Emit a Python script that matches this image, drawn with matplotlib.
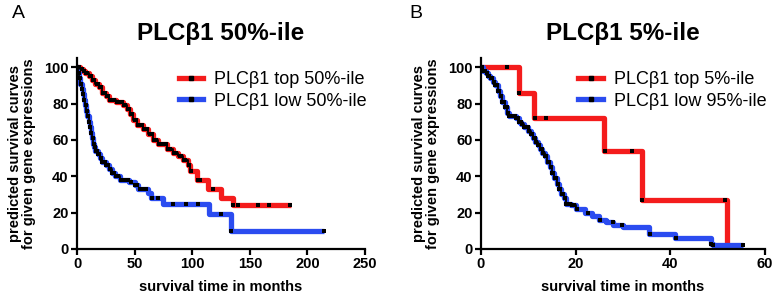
import numpy as np
import matplotlib
matplotlib.use('Agg')
import matplotlib.pyplot as plt
from matplotlib.lines import Line2D

plt.rcParams['font.family'] = ['Liberation Sans', 'DejaVu Sans']

RED = '#f41c1c'
BLUE = '#2b4cf0'

# panel A: top 50% vs low 50%
a_top_t = [0, 3, 5, 7, 10, 13, 16, 19, 22, 25, 28, 34, 40, 43, 46, 49, 52, 57, 62, 66,
           70, 78, 83, 88, 92, 96, 98, 104, 114, 125, 135]
a_top_s = [100, 99, 98, 97, 95, 93, 91, 89, 86, 84, 82, 81, 79, 77, 74, 71, 68, 66, 63, 60,
           58, 55, 53, 51, 49, 46, 43, 38, 33, 28, 24]
a_top_end = 186
a_top_cens = [1, 2, 4, 6, 8, 9, 11, 12, 14, 15, 17, 18, 20, 21, 23, 24, 26, 27, 29, 30, 31, 32,
              35, 36, 37, 38, 39, 41, 42, 44, 45, 47, 48, 50, 51, 53, 54, 55, 56, 58, 59, 60,
              61, 63, 64, 65, 67, 68, 69, 71, 72, 74, 75, 76, 77, 79, 80, 81, 84, 85, 86, 89,
              90, 93, 94, 97, 99, 105, 107, 118, 135, 140, 157, 167, 185]

a_low_t = [0, 1, 2, 3, 4, 5, 6, 7, 8, 9, 10, 11, 12, 13, 14, 15, 16, 18, 20, 22, 25, 28, 30,
           33, 37, 45, 50, 53, 62, 64, 75, 115, 134]
a_low_s = [100, 97, 94, 91, 88, 85, 82, 79, 76, 73, 70, 67, 64, 61, 58, 56, 54, 52, 50, 48, 46,
           44, 42, 40, 38, 37, 35, 33, 31, 28, 25, 19, 10]
a_low_end = 214
a_low_cens = [0.5, 1.5, 2.5, 3.5, 4.5, 5.5, 6.5, 7.5, 8.5, 9.5, 10.5, 11.5, 12.5, 13.5, 14.5,
              15.5, 16.5, 17, 18.5, 19, 20.5, 21, 22, 23.5, 24, 25.5, 26, 27, 28.5, 29, 30.5,
              31, 32, 33.5, 34, 35, 36, 38, 40, 42, 44, 47, 50, 52, 55, 58, 60, 65, 70, 83,
              95, 105, 125, 134, 214]

# panel B: top 5% vs low 95%
b_top_t = [0, 8, 11.3, 26, 34, 52]
b_top_s = [100, 86, 72, 54, 27, 0]
b_top_end = 52
b_top_cens = [5.5, 8.1, 11.4, 13.8, 26.1, 32, 34.1, 51.5]

b_low_t = [0, 0.5, 1, 1.5, 2, 2.5, 3, 3.5, 4, 4.5, 5, 5.5, 6, 7.5, 8, 8.5, 9, 10, 10.5, 11,
           11.5, 12, 12.5, 13, 13.5, 14, 14.5, 15, 15.5, 16, 16.5, 17, 17.5, 18, 19, 20, 22,
           23.5, 25, 26.5, 28, 30, 35.5, 41, 48.5, 49]
b_low_s = [100, 98, 97, 95, 94, 92, 90, 87, 84, 81, 78, 75, 73, 72, 70, 69, 67, 65, 63, 61,
           59, 57, 55, 53, 51, 48, 45, 42, 39, 36, 33, 30, 28, 25, 24, 22, 20, 18, 16, 15,
           13, 12, 8, 6, 3, 2]
b_low_end = 55.4
b_low_cens = [0.3, 0.6, 0.9, 1.2, 1.5, 1.8, 2.1, 2.4, 2.7, 3.0, 3.3, 3.6, 3.9, 4.2, 4.5, 4.8,
              5.1, 5.4, 5.7, 6.0, 6.3, 6.6, 6.9, 7.2, 7.5, 7.8, 8.1, 8.4, 8.7, 9.0, 9.3, 9.6,
              9.9, 10.2, 10.5, 10.8, 11.1, 11.4, 11.7, 12.0, 12.3, 12.6, 12.9, 13.2, 13.5,
              13.8, 14.1, 14.4, 14.7, 15.0, 15.3, 15.6, 15.9, 16.2, 16.5, 16.8, 17.1, 17.4,
              17.7, 18.0, 18.4, 18.8, 19.2, 19.6, 20.2, 22.6, 25.1, 27.9, 29.7, 35.7, 41.3,
              48.7, 49.1, 55.4]


def km(ax, t, s, end, cens, color, dense_until):
    tt = np.append(t, end)
    ss = np.append(s, s[-1])
    ax.step(tt, ss, where='post', color=color, lw=3.8, solid_capstyle='butt', zorder=2)
    if dense_until:
        m = tt <= dense_until
        ax.step(tt[m], ss[m], where='post', color='black', lw=1.3, zorder=3)
    idx = np.searchsorted(t, cens, side='right') - 1
    ax.plot(cens, np.array(s)[idx], 's', color='black', ms=2.6, mew=0, zorder=4)


def style(ax, title, xmax, xstep):
    ax.set_xlim(0, xmax)
    ax.set_ylim(0, 105)
    ax.set_xticks(np.arange(0, xmax + 1, xstep))
    ax.set_yticks([0, 20, 40, 60, 80, 100])
    for sp in ['top', 'right']:
        ax.spines[sp].set_visible(False)
    for sp in ['left', 'bottom']:
        ax.spines[sp].set_linewidth(1.6)
    ax.tick_params(direction='out', length=4, width=1.6, labelsize=10.5, pad=2)
    for lab in ax.get_xticklabels() + ax.get_yticklabels():
        lab.set_fontweight('bold')
    ax.set_title(title, fontsize=17.5, fontweight='bold', pad=13)
    ax.set_xlabel('survival time in months', fontsize=10.5, fontweight='bold', labelpad=6)
    ax.set_ylabel('predicted survival curves\nfor given gene expressions', fontsize=10.5,
                  fontweight='bold', linespacing=0.95, labelpad=6)


def legend(ax, labels):
    h = [Line2D([], [], color=RED, lw=3.8, marker='s', ms=2.6, mfc='black', mec='black'),
         Line2D([], [], color=BLUE, lw=3.8, marker='s', ms=2.6, mfc='black', mec='black')]
    ax.legend(h, labels, loc='upper right', bbox_to_anchor=(1.03, 0.97), frameon=False,
              fontsize=13, handlelength=1.35, handletextpad=0.6, labelspacing=0.25,
              borderaxespad=0)


fig = plt.figure(figsize=(7.77, 2.95), dpi=100)
axA = fig.add_axes([0.0991, 0.156, 0.3707, 0.647])
axB = fig.add_axes([0.619, 0.156, 0.3655, 0.647])

km(axA, a_top_t, a_top_s, a_top_end, a_top_cens, RED, 100)
km(axA, a_low_t, a_low_s, a_low_end, a_low_cens, BLUE, 40)
style(axA, 'PLCβ1 50%-ile', 250, 50)
legend(axA, ['PLCβ1 top 50%-ile', 'PLCβ1 low 50%-ile'])

km(axB, b_top_t, b_top_s, b_top_end, b_top_cens, RED, None)
km(axB, b_low_t, b_low_s, b_low_end, b_low_cens, BLUE, 20)
style(axB, 'PLCβ1 5%-ile', 60, 20)
legend(axB, ['PLCβ1 top 5%-ile', 'PLCβ1 low 95%-ile'])

fig.text(0.015, 0.94, 'A', fontsize=14)
fig.text(0.527, 0.94, 'B', fontsize=14)

fig.savefig('out.png', dpi=100)
